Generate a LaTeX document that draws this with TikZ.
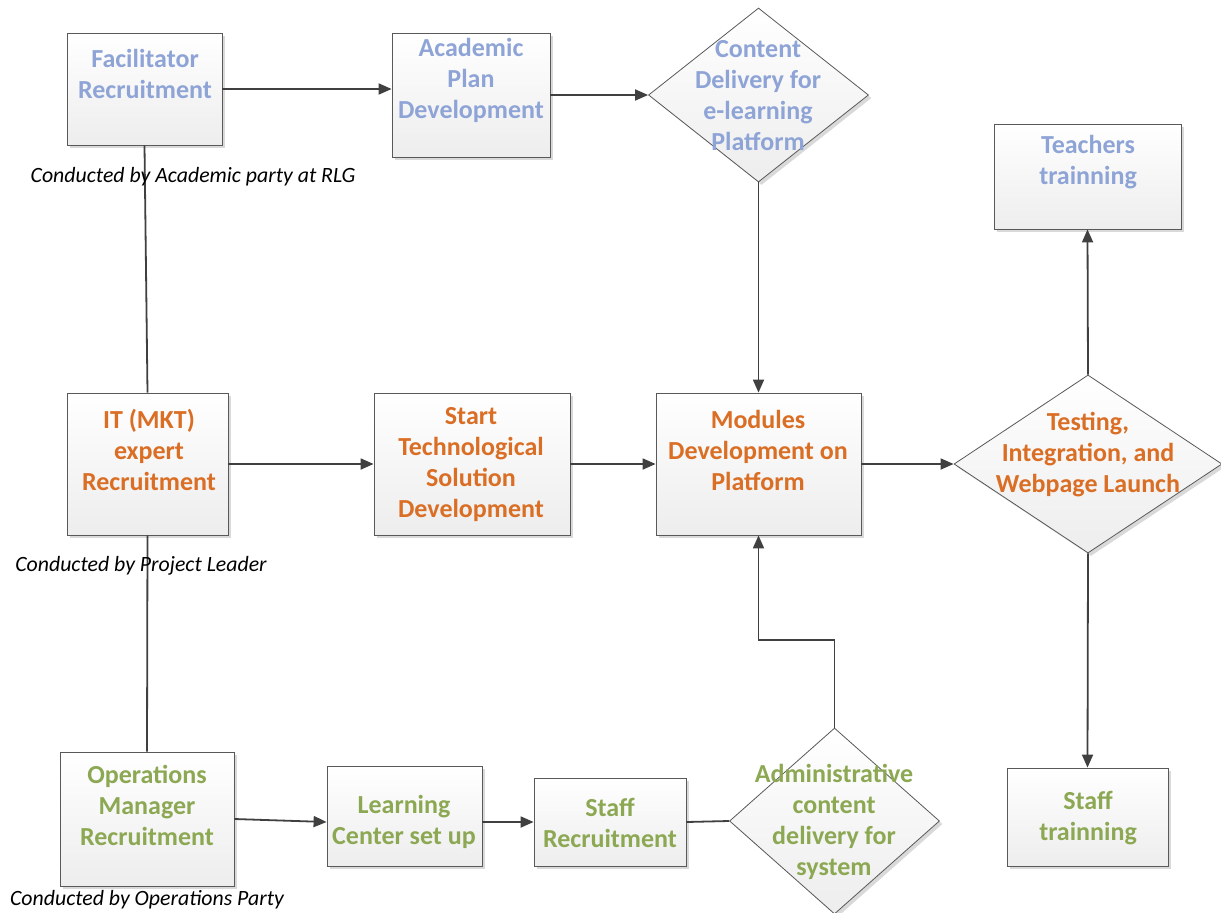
\documentclass[tikz,border=0pt]{standalone}
\usepackage{fontspec}
\setmainfont{Carlito}
\usetikzlibrary{shapes.geometric,arrows.meta,shadows}
\definecolor{acblue}{HTML}{8EA4D6}
\definecolor{acorange}{HTML}{DA6E24}
\definecolor{acgreen}{HTML}{8CA853}
\definecolor{lineclr}{HTML}{404040}
\tikzset{
  shape base/.style={draw=black!65, line width=0.8pt, top color=white, bottom color=black!7,
    inner sep=0pt, drop shadow={shadow xshift=3pt, shadow yshift=-3pt, fill=black!25, opacity=0.6}},
  box/.style={shape base, rectangle},
  dbox/.style={shape base, diamond},
  lbl/.style={align=center, font=\fontsize{26}{31}\selectfont\bfseries, inner sep=0pt},
  note/.style={font=\fontsize{21.8}{26}\selectfont\itshape, inner sep=0pt},
  link/.style={draw=lineclr, line width=1.8pt},
  flow/.style={link, -{Triangle[length=13pt,width=11pt]}},
}
\begin{document}
\begin{tikzpicture}[x=1pt,y=-1pt]
\useasboundingbox (0,0) rectangle (1221,913);
\clip (0,0) rectangle (1221,913);

% top row: academic track
\node[box, minimum width=155pt, minimum height=112pt] (fac)   at (144.5,89) {};
\node[box, minimum width=158pt, minimum height=124pt] (acad)  at (471,95) {};
\node[dbox, minimum width=220pt, minimum height=174pt] (cont) at (758.5,95) {};
\node[box, minimum width=187pt, minimum height=105pt] (teach) at (1087.5,176.5) {};

% middle row: technology track
\node[box, minimum width=161pt, minimum height=142pt] (it)    at (147.5,464) {};
\node[box, minimum width=196pt, minimum height=142pt] (start) at (472,464) {};
\node[box, minimum width=205pt, minimum height=142pt] (mod)   at (758.5,464) {};
\node[dbox, minimum width=268pt, minimum height=178pt] (test) at (1088,464) {};

% bottom row: operations track
\node[box, minimum width=174pt, minimum height=134pt] (ops)   at (147,819) {};
\node[box, minimum width=155pt, minimum height=100pt] (learn) at (404.5,816) {};
\node[box, minimum width=152pt, minimum height=88pt]  (sr)    at (610,822) {};
\node[dbox, minimum width=210pt, minimum height=186pt] (adm)  at (834.5,821) {};
\node[box, minimum width=161pt, minimum height=98pt]  (stt)   at (1087.5,817) {};

% connectors
\draw[flow] (fac.east) -- (fac.east -| acad.west);
\draw[flow] (acad.east) -- (cont.west);
\draw[flow] (cont.south) -- (mod.north);
\draw[link] (fac.south) -- (it.north);
\draw[flow] (it.east) -- (start.west);
\draw[flow] (start.east) -- (mod.west);
\draw[flow] (mod.east) -- (test.west);
\draw[flow] (test.north) -- (teach.south);
\draw[flow] (test.south) -- (stt.north);
\draw[link] (it.south) -- (ops.north);
\draw[flow] (ops.east) -- (learn.west |- sr.west);
\draw[flow] (learn.east |- sr.west) -- (sr.west);
\draw[link] (sr.east) -- (adm.west);
\coordinate (bend) at (834.5,640);
\draw[flow] (adm.north) -- (bend) -| (mod.south);

% labels
\node[lbl, text=acblue] (facT) at (145,74) {Facilitator\\Recruitment};
\node[lbl, text=acblue] (acadT) at (471,80) {Academic\\Plan\\Development};
\node[lbl, text=acblue] (contT) at (758,96) {Content\\Delivery for\\e-learning\\Platform};
\node[lbl, text=acblue] (teachT) at (1088,162) {Teachers\\trainning};

\node[lbl, text=acorange] (itT) at (149,450) {IT (MKT)\\expert\\Recruitment};
\node[lbl, text=acorange] (startT) at (471,465) {Start\\Technological\\Solution\\Development};
\node[lbl, text=acorange] (modT) at (758,450) {Modules\\Development on\\Platform};
\node[lbl, text=acorange] (testT) at (1088,455) {Testing,\\Integration, and\\Webpage Launch};

\node[lbl, text=acgreen] (opsT) at (147,805) {Operations\\Manager\\Recruitment};
\node[lbl, text=acgreen] (learnT) at (404,822) {Learning\\Center set up};
\node[lbl, text=acgreen] (srT) at (610,823) {Staff\\Recruitment};
\node[lbl, text=acgreen] (admT) at (834,822) {Administrative\\content\\delivery for\\system};
\node[lbl, text=acgreen] (sttT) at (1088,818) {Staff\\trainning};

% responsibility notes
\node[note] (n1) at (193,177) {Conducted by Academic party at RLG};
\node[note] (n2) at (141,566) {Conducted by Project Leader};
\node[note] (n3) at (147,900) {Conducted by Operations Party};
\end{tikzpicture}
\end{document}
